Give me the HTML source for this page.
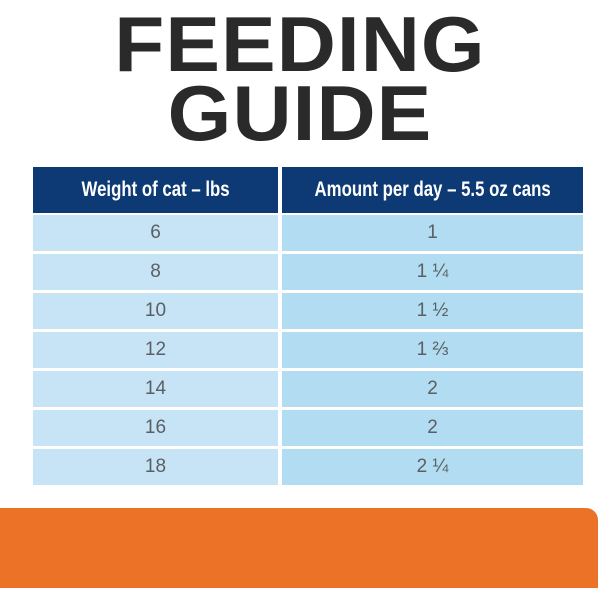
<!DOCTYPE html>
<html><head><meta charset="utf-8"><style>
body{margin:0;width:600px;height:600px;background:#fff;position:relative;overflow:hidden;font-family:"Liberation Sans",sans-serif}
.t{position:absolute;left:0;width:600px;text-align:center;font-weight:bold;color:#2a2a2a;font-size:78px;line-height:1;letter-spacing:1px}
.c{position:absolute;display:flex;align-items:center;justify-content:center;color:#5a5f63;font-size:19px}
.h{background:#0d3a74;color:#fff;font-weight:bold;font-size:21px;white-space:nowrap}
.h span{display:inline-block;transform:scaleX(0.8)}
</style></head><body>
<div class="t" style="top:5px;transform:scaleX(1.05)">FEEDING</div>
<div class="t" style="top:74px;transform:scaleX(1.05)">GUIDE</div>
<div class="c h" style="left:33px;top:167px;width:245px;height:46px"><span>Weight of cat – lbs</span></div>
<div class="c h" style="left:282px;top:167px;width:301px;height:46px"><span>Amount per day – 5.5 oz cans</span></div>
<div id="rows"></div>
<div style="position:absolute;left:0;top:508px;width:598px;height:80px;background:#ec7228;border-top-right-radius:12px"></div>
<script>
const weights=["6","8","10","12","14","16","18"];
const amounts=["1","1 ¼","1 ½","1 ⅔","2","2","2 ¼"];
const host=document.getElementById('rows');
weights.forEach((w,i)=>{
  const top=215+i*39;
  const a=document.createElement('div');
  a.className='c';
  
  
  a.style.cssText=`left:33px;top:${top}px;width:245px;height:36px;background:#c7e4f6`;
  a.textContent=w;host.appendChild(a);
  const b=document.createElement('div');
  b.className='c';
  
  
  b.style.cssText=`left:282px;top:${top}px;width:301px;height:36px;background:#b1dcf1`;
  b.textContent=amounts[i];host.appendChild(b);
});
</script>
</body></html>
